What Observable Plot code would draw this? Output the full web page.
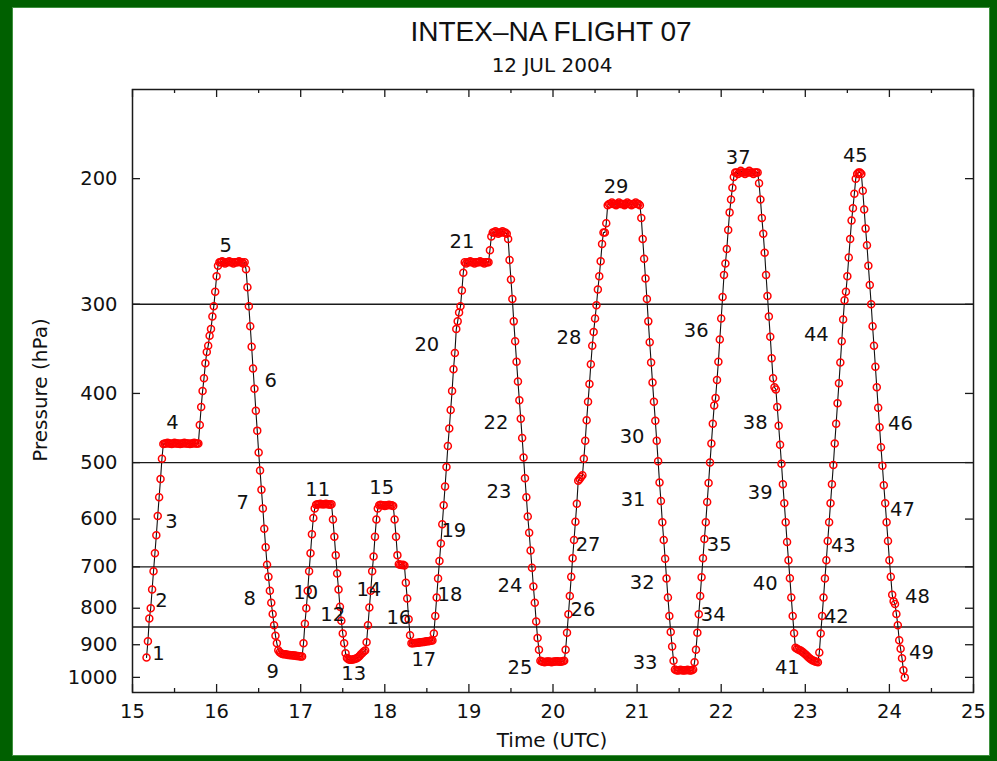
<!DOCTYPE html>
<html>
<head>
<meta charset="utf-8">
<script src="https://cdn.jsdelivr.net/npm/d3@7"></script>
<script src="https://cdn.jsdelivr.net/npm/@observablehq/plot@0.6"></script>
<style>
  html, body { margin: 0; padding: 0; }
  body {
    width: 997px; height: 761px; position: relative; overflow: hidden;
    background: #006000;
    font-family: "DejaVu Sans", sans-serif; color: #111;
  }
  #panel {
    position: absolute; left: 12px; top: 7px; width: 978px; height: 749px;
    background: #fff; box-shadow: inset 0 0 0 1px #3f913f;
  }
  .lbl { position: absolute; white-space: nowrap; text-align: center; }
  #title {
    left: 351px; width: 400px; top: 18px; font-size: 28px; line-height: 28px;
    font-family: "Liberation Sans", Arial, sans-serif; font-weight: normal;
  }
  #subtitle { left: 352px; width: 400px; top: 55px; font-size: 20px; line-height: 20px; }
  #xlabel { left: 352px; width: 400px; top: 730px; font-size: 20px; line-height: 20px; }
  #ylabel {
    left: -160px; width: 400px; top: 380px; font-size: 20px; line-height: 20px;
    transform: rotate(-90deg); transform-origin: 50% 50%;
  }
  #chart { position: absolute; left: 0; top: 0; }
</style>
</head>
<body>
<div id="panel"></div>
<div id="chart"></div>
<div class="lbl" id="title">INTEX–NA FLIGHT 07</div>
<div class="lbl" id="subtitle">12 JUL 2004</div>
<div class="lbl" id="xlabel">Time (UTC)</div>
<div class="lbl" id="ylabel">Pressure (hPa)</div>
<script>
// Aircraft static pressure, one sample per minute starting 15:10 UTC
const sampleStartUTC = 15 + 10 / 60;
const sampleStepHours = 1 / 60;
const pressure = [
  938, 890, 827, 800, 753, 710, 670, 632, 594, 559, 527, 494,
  471, 470, 470, 469, 470, 470, 471, 470, 469, 470, 470, 470, 471, 470, 470, 469, 470, 470, 470, 471, 470, 470, 469, 470, 470, 470,
  443, 418, 397, 381, 363, 350, 343, 332, 325, 312, 302, 288, 274, 265,
  262, 262, 261, 262, 263, 262, 262, 261, 262, 262, 263, 262, 262, 262, 261, 262, 262, 263, 262,
  268, 284, 302, 322, 344, 369, 394, 423, 451, 484, 513, 546, 580, 619, 657, 695, 723, 756, 786, 815, 845, 874, 896, 916,
  922, 925, 927, 928, 928, 929, 930, 930, 931, 931, 932, 932, 933, 933, 934, 935, 935,
  896, 841, 800, 756, 710, 670, 630, 598,
  580, 573, 572, 572, 571, 572, 572, 572, 571, 572, 572, 573, 572,
  601, 635, 674, 715, 753, 796, 833, 868, 896, 925, 939,
  943, 945, 945, 944, 943, 942, 940, 937, 933, 928, 924, 920, 917,
  893, 845, 798, 756, 710, 677, 635, 601, 580,
  574, 573, 574, 574, 575, 574, 574, 573, 574, 574, 575,
  601, 635, 674,
  694, 695, 696, 695, 697,
  737, 775, 829, 873,
  896, 896, 895, 895, 894, 894, 893, 893, 892, 892, 891, 890, 890, 889, 888, 888,
  868, 820, 773, 727, 687, 649, 610, 574, 540, 507, 474, 448, 422, 397, 370, 351, 325, 317, 308, 302, 287, 271,
  262, 263, 262, 262, 261, 262, 262, 263, 262, 262, 262, 261, 262, 262, 263, 262, 262, 262,
  252, 241,
  238, 238, 237, 238, 239, 238, 238, 237, 238, 238, 239,
  243, 260, 277, 295, 317, 338, 361, 385, 409, 434, 462, 492, 526, 559, 595, 627, 664, 702, 746, 786, 835, 881, 915, 948,
  950, 951, 952, 951, 950, 950, 951, 952, 951, 950, 950, 949, 950, 951, 950, 949, 948,
  915, 866, 816, 769, 723, 681, 642, 605, 571, 530, 527, 524, 521,
  494, 466, 436, 411, 388, 364, 343, 328, 314, 301, 286, 274, 261, 247, 238, 238, 231,
  218, 217, 217, 216, 217, 217, 218, 217, 216, 217, 217, 217, 218, 217, 216, 217, 217, 218, 217, 217, 216, 217, 217, 218,
  227, 243, 259, 276, 295, 317, 339, 362, 386, 411, 437, 466, 498, 533, 566, 606, 642, 682, 727, 773, 820, 864, 905, 948,
  975, 977, 978, 977, 976, 977, 978, 977, 977, 976, 977, 978, 977, 975,
  952, 915, 866, 816, 769, 724, 681, 640, 606, 568, 534, 500, 470, 441, 416, 406, 383, 361, 336, 314, 293, 273, 263, 251, 236, 223, 214, 206, 199,
  196, 196, 197, 196, 195, 196, 196, 197, 196, 196, 195, 196, 196, 197, 196, 196, 196,
  203, 214, 227, 239, 254, 273, 292, 312, 333, 357, 381, 392, 395, 418, 444, 472, 502, 536, 570, 606, 646, 685, 726, 773, 820, 867, 909,
  912, 914, 916, 918, 921, 924, 928, 932, 936, 940, 943, 946, 948, 950, 951, 952,
  923, 868, 820, 773, 727, 685, 644, 606, 570, 536, 504, 470, 441, 413, 387, 362, 338, 315, 296, 288, 274, 258, 243, 229, 220, 210, 200,
  197, 196, 196, 197,
  208, 221, 235, 248, 265, 282, 300, 322, 343, 367, 392, 419, 446, 476, 505, 538, 570, 606, 644, 685, 723, 766, 782, 789, 815, 845, 887, 912, 940, 977, 1000
];

// Flight leg numbers and where each is annotated (UTC hour, hPa)
const legTime = [
  15.31, 15.345, 15.464, 15.476, 16.107, 16.643, 16.31, 16.393, 16.667, 17.06,
  17.202, 17.381, 17.631, 17.81, 17.964, 18.167, 18.464, 18.774, 18.821, 18.5,
  18.917, 19.321, 19.357, 19.488, 19.607, 20.357, 20.417, 20.19, 20.75, 20.94,
  20.952, 21.06, 21.095, 21.905, 21.976, 21.702, 22.202, 22.405, 22.464, 22.524,
  22.786, 23.369, 23.452, 23.131, 23.595, 24.131, 24.155, 24.333, 24.381
];
const legPressure = [
  928, 780, 606, 439, 248, 384, 570, 775, 981, 762,
  546, 816, 987, 753, 543, 824, 944, 765, 624, 342,
  245, 440, 550, 743, 968, 805, 651, 334, 205, 460,
  563, 738, 953, 816, 651, 327, 187, 440, 552, 740,
  968, 821, 653, 331, 186, 441, 583, 770, 923
];

// Axis ticks and reference pressure levels
const hourTicks = [15, 16, 17, 18, 19, 20, 21, 22, 23, 24, 25];
const halfHourTicks = [15.5, 16.5, 17.5, 18.5, 19.5, 20.5, 21.5, 22.5, 23.5, 24.5];
const pressureTicks = [200, 300, 400, 500, 600, 700, 800, 900, 1000];
const referenceLevels = [300, 500, 700, 850];

const flight = pressure.map((p, i) => ({time: sampleStartUTC + i * sampleStepHours, pressure: p}));
const legs = legTime.map((t, i) => ({leg: String(i + 1), time: t, pressure: legPressure[i]}));

const W = 997, H = 761;
const M = {top: 89, right: 24, bottom: 69, left: 132};
const innerW = W - M.left - M.right;
const innerH = H - M.top - M.bottom;
const majorLen = 8, minorLen = 4;
const ink = "#1a1a1a";

const chart = Plot.plot({
  width: W,
  height: H,
  marginTop: M.top,
  marginRight: M.right,
  marginBottom: M.bottom,
  marginLeft: M.left,
  style: {background: "none", fontFamily: "'DejaVu Sans', sans-serif", fontSize: "19.5px", color: "#111", overflow: "visible"},
  x: {domain: [15, 25], ticks: hourTicks, tickFormat: d => String(d), tickSize: 0, tickPadding: 12, label: null},
  y: {type: "log", domain: [150, 1050], reverse: true, ticks: pressureTicks, tickFormat: d => String(d), tickSize: 0, tickPadding: 15, label: null},
  marks: [
    Plot.ruleY(referenceLevels, {y: d => d, stroke: ink, strokeWidth: 1.4}),
    Plot.line(flight, {x: "time", y: "pressure", stroke: "#111", strokeWidth: 1.1}),
    Plot.dot(flight, {x: "time", y: "pressure", r: 3.5, stroke: "#ff0000", strokeWidth: 1.5, fill: "none"}),
    Plot.text(legs, {x: "time", y: "pressure", text: "leg", fill: "#111", fontSize: 19.5}),
    Plot.frame({stroke: ink, strokeWidth: 1.5}),
    // inward tick marks on all four sides
    Plot.tickX(hourTicks, {x: d => d, insetTop: innerH - majorLen, stroke: ink, strokeWidth: 1.3}),
    Plot.tickX(hourTicks, {x: d => d, insetBottom: innerH - majorLen, stroke: ink, strokeWidth: 1.3}),
    Plot.tickX(halfHourTicks, {x: d => d, insetTop: innerH - minorLen, stroke: ink, strokeWidth: 1.3}),
    Plot.tickX(halfHourTicks, {x: d => d, insetBottom: innerH - minorLen, stroke: ink, strokeWidth: 1.3}),
    Plot.tickY(pressureTicks, {y: d => d, insetRight: innerW - majorLen, stroke: ink, strokeWidth: 1.3}),
    Plot.tickY(pressureTicks, {y: d => d, insetLeft: innerW - majorLen, stroke: ink, strokeWidth: 1.3})
  ]
});

document.getElementById("chart").appendChild(chart);
</script>
</body>
</html>
